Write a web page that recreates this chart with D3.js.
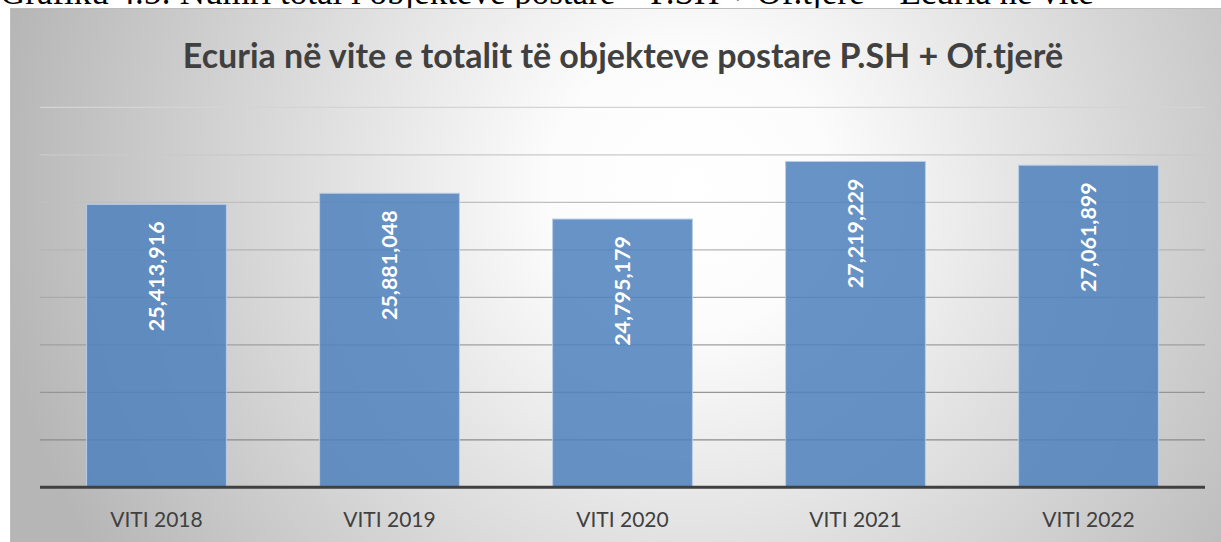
<!DOCTYPE html>
<html lang="sq">
<head>
<meta charset="UTF-8">
<title>Ecuria në vite</title>
<style>
  html, body { margin: 0; padding: 0; background: #fff; }
  svg { display: block; }
</style>
</head>
<body>
<div id="chart"></div>
<script src="https://d3js.org/d3.v7.min.js"></script>
<script>
// data
const categories = ["VITI 2018", "VITI 2019", "VITI 2020", "VITI 2021", "VITI 2022"];
const totals = [25413916, 25881048, 24795179, 27219229, 27061899];
const gridTicks = [13500000, 15500000, 17500000, 19500000, 21500000, 23500000, 25500000, 27500000, 29500000];

const W = 1221, H = 542;
const plot = { left: 40, right: 1205, top: 107.3, bottom: 487.3 };

const svg = d3.select("#chart").append("svg")
  .attr("width", W)
  .attr("height", H);

const defs = svg.append("defs");

// background radial gradient
const bg = defs.append("radialGradient")
  .attr("id", "bgGrad")
  .attr("gradientUnits", "userSpaceOnUse")
  .attr("cx", 690).attr("cy", 190).attr("r", 700);
bg.append("stop").attr("offset", 0).attr("stop-color", "#ffffff");
bg.append("stop").attr("offset", 0.2).attr("stop-color", "#fcfcfc");
bg.append("stop").attr("offset", 1).attr("stop-color", "#b6b6b6");

// gridlines get darker toward the bottom
const gg = defs.append("linearGradient")
  .attr("id", "gridGrad")
  .attr("gradientUnits", "userSpaceOnUse")
  .attr("x1", 0).attr("y1", plot.top).attr("x2", 0).attr("y2", plot.bottom);
gg.append("stop").attr("offset", 0).attr("stop-color", "#d4d4d4");
gg.append("stop").attr("offset", 1).attr("stop-color", "#808080");

// caption above the chart, cut off by the page edge as in the source
svg.append("text")
  .attr("x", 0)
  .attr("y", 4)
  .style("font-family", "'Liberation Serif', 'Times New Roman', serif")
  .style("font-size", "35px")
  .style("fill", "#000")
  .text("Grafiku 4.5: Numri total i objekteve postare – P.SH + Of.tjerë – Ecuria në vite");

// chart area
svg.append("rect")
  .attr("x", 10.5).attr("y", 8.5)
  .attr("width", W).attr("height", H)
  .attr("fill", "url(#bgGrad)")
  .attr("stroke", "#bdbdbd")
  .attr("stroke-width", 1);

svg.append("text")
  .attr("x", 623)
  .attr("y", 68)
  .attr("text-anchor", "middle")
  .style("font-family", "Lato, 'Open Sans', sans-serif")
  .style("font-weight", "bold")
  .style("font-size", "34px")
  .style("fill", "#404040")
  .text("Ecuria në vite e totalit të objekteve postare P.SH + Of.tjerë");

const x = d3.scaleBand()
  .domain(categories)
  .range([plot.left, plot.right])
  .paddingInner(0.4)
  .paddingOuter(0.2);

const y = d3.scaleLinear()
  .domain([gridTicks[0], gridTicks[gridTicks.length - 1]])
  .range([plot.bottom, plot.top]);

// gridlines
svg.append("g")
  .selectAll("line")
  .data(gridTicks.slice(1))
  .enter().append("line")
  .attr("x1", plot.left)
  .attr("x2", plot.right)
  .attr("y1", d => y(d))
  .attr("y2", d => y(d))
  .attr("stroke", "url(#gridGrad)")
  .attr("stroke-width", 1.3);

// bars
svg.append("g")
  .selectAll("rect")
  .data(totals)
  .enter().append("rect")
  .attr("x", (d, i) => x(categories[i]))
  .attr("y", d => y(d))
  .attr("width", x.bandwidth())
  .attr("height", d => y(gridTicks[0]) - y(d))
  .attr("fill", "#4f81bd")
  .attr("fill-opacity", 0.86)
  .attr("stroke", "#b9cde6")
  .attr("stroke-width", 1);

// baseline
svg.append("line")
  .attr("x1", plot.left)
  .attr("x2", plot.right)
  .attr("y1", plot.bottom)
  .attr("y2", plot.bottom)
  .attr("stroke", "#404040")
  .attr("stroke-width", 3);

// value labels, rotated inside bar tops
const fmt = d3.format(",");
svg.append("g")
  .selectAll("text")
  .data(totals)
  .enter().append("text")
  .attr("transform", (d, i) => {
    const cx = x(categories[i]) + x.bandwidth() / 2;
    return `translate(${cx + 7.5},${y(d) + 17}) rotate(-90)`;
  })
  .attr("text-anchor", "end")
  .style("font-family", "Lato, 'Open Sans', sans-serif")
  .style("font-weight", "bold")
  .style("font-size", "21.5px")
  .style("fill", "#ffffff")
  .text(d => fmt(d));

// category axis labels
svg.append("g")
  .selectAll("text")
  .data(categories)
  .enter().append("text")
  .attr("x", d => x(d) + x.bandwidth() / 2)
  .attr("y", 527)
  .attr("text-anchor", "middle")
  .style("font-family", "Lato, 'Open Sans', sans-serif")
  .style("font-size", "21px")
  .style("fill", "#404040")
  .text(d => d);
</script>
</body>
</html>
